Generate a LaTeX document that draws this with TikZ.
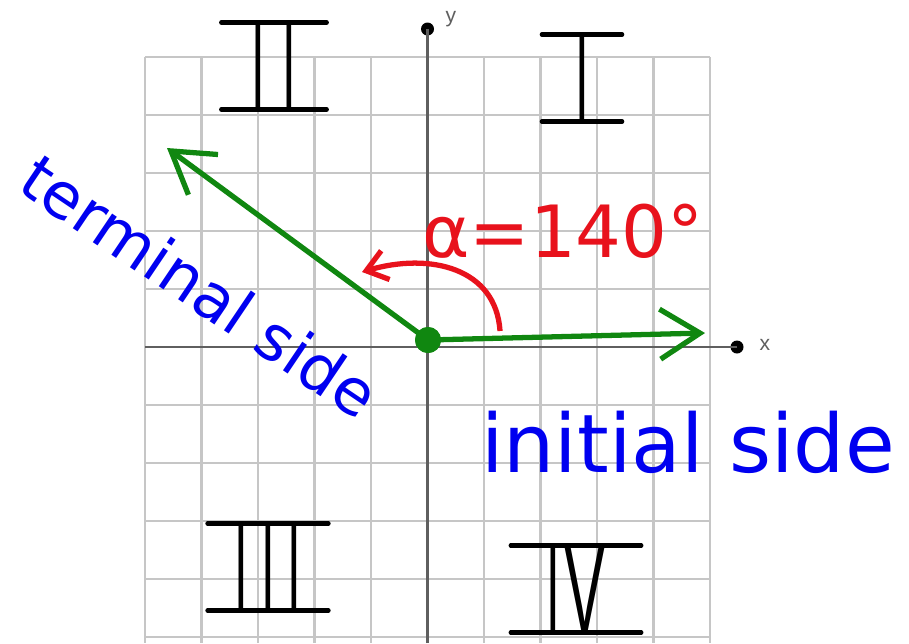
\documentclass[tikz,border=0pt]{standalone}
\usepackage{fontspec}
\setmainfont{DejaVu Sans}
\newfontfamily\numfont{Liberation Sans}
\usetikzlibrary{arrows.meta}
\definecolor{gridgray}{RGB}{198,198,198}
\definecolor{axisgray}{RGB}{95,95,95}
\definecolor{sidegreen}{RGB}{16,135,16}
\definecolor{anglered}{RGB}{232,18,28}
\definecolor{handblue}{RGB}{0,0,240}
\tikzset{
  gridline/.style={draw=gridgray, line width=1.4pt},
  axisline/.style={draw=axisgray, line width=1.6pt},
  axisdot/.style={circle, fill=black, inner sep=0pt, minimum size=2.6mm},
  axislabel/.style={text=axisgray, font=\numfont\fontsize{12}{12}\selectfont},
  side/.style={draw=sidegreen, line width=3pt,
               -{Straight Barb[length=8mm, width=10mm]}},
  anglearc/.style={draw=anglered, line width=3pt,
                   -{Straight Barb[length=4mm, width=6mm]}},
  hand/.style={text=handblue},
  numbox/.style={inner ysep=0pt, font=\numfont\fontsize{28}{28}\selectfont},
  numbar/.style={draw=black, line width=2.4pt, line cap=round}
}
\newcommand{\tallnum}[1]{\scalebox{1}[2.55]{#1}}
\begin{document}
\begin{tikzpicture}[x=0.02cm, y=-0.02cm]
\useasboundingbox (0,0) rectangle (909,643);
% ---- grid ----
\foreach \i in {0,...,10} {
  \draw[gridline] ({145+56.5*\i},57) -- ({145+56.5*\i},643);
  \draw[gridline] (145,{57+58*\i}) -- (710,{57+58*\i});
}
% ---- axes ----
\node[axisdot] (xend) at (737,347) {};
\node[axisdot] (yend) at (427.5,29) {};
\coordinate (xstart) at (145,347);
\coordinate (ystart) at (427.5,643);
\draw[axisline] (xstart) -- (xend.center);
\draw[axisline] (ystart) -- (yend.center);
\node[axislabel] (xlab) at (765,345) {x};
\node[axislabel] (ylab) at (451,19) {y};
% ---- quadrant numerals ----
\node[numbox, inner xsep=0.66cm] (q1) at (582,78) {\tallnum{I}};
\node[numbox, inner xsep=0.6cm] (q2) at (274,66) {\tallnum{I\kern10pt I}};
\node[numbox, inner xsep=0.53cm] (q3) at (268,567) {\tallnum{I\kern7.5pt I\kern7.5pt I}};
\node[numbox, inner xsep=0.7cm] (q4) at (576,589) {\tallnum{I}\kern3pt\scalebox{1.25}[2.55]{V}};
\foreach \q in {q1,q2,q3,q4} {
  \draw[numbar] (\q.north west) -- (\q.north east);
  \draw[numbar] (\q.south west) -- (\q.south east);
}
% ---- sides of the angle ----
\node[circle, fill=sidegreen, inner sep=0pt, minimum size=0.52cm] (o) at (428,340) {};
\coordinate (itip) at (705,333);
\coordinate (ttip) at (167,148);
\draw[side] (o.center) -- (itip);
\draw[side] (o.center) -- (ttip);
\node[circle, fill=sidegreen, inner sep=0pt, minimum size=0.52cm] at (o) {};
% ---- angle ----
\coordinate (astart) at (500,331);
\coordinate (aend) at (362,272);
\draw[anglearc] (astart) .. controls (496,268) and (430,252) .. (aend);
\node[text=anglered, anchor=base, font=\fontsize{41}{41}\selectfont] (alpha) at (563,257) {α=140°};
% ---- labels ----
\node[hand, anchor=base, font=\fontsize{46}{46}\selectfont] (initial) at (688,472) {initial side};
\node[hand, rotate=-34, font=\fontsize{36}{36}\selectfont] (terminal) at (200,286) {terminal side};
\end{tikzpicture}
\end{document}
